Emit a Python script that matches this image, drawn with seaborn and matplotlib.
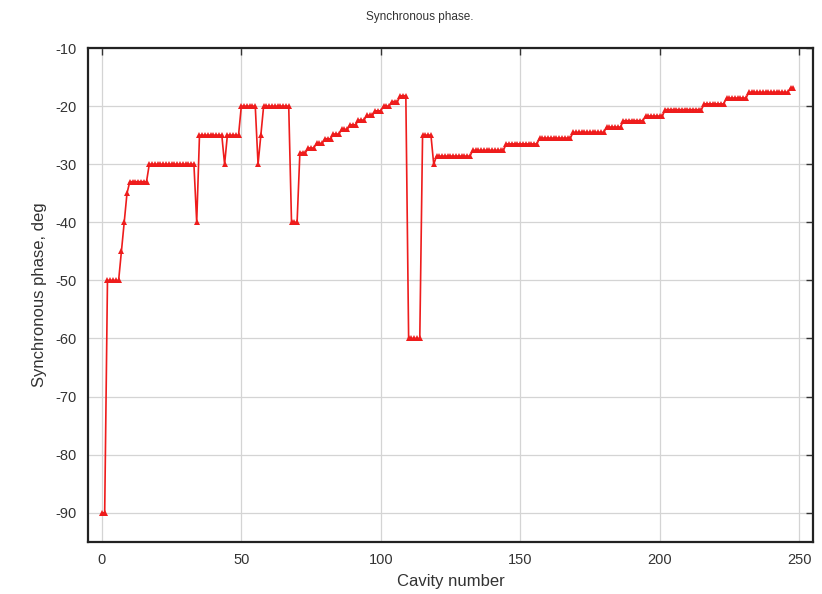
import numpy as np
import pandas as pd
import seaborn as sns
from matplotlib import pyplot as plt

# synchronous phase per cavity, stored as plateaus (level, number of cavities)
phase_levels = [
    -90, -50, -45, -40, -35, -33, -30, -40, -25, -30, -25, -20, -30, -25, -20, -40,
    -28, -27.2, -26.4, -25.6, -24.8, -24.0, -23.2, -22.4, -21.6, -20.8, -20.0, -19.2, -18.2,
    -60, -25, -30,
    -28.6, -27.6, -26.5, -25.5, -24.5, -23.6, -22.5, -21.7, -20.6, -19.6, -18.6, -17.6, -16.8,
]
plateau_lengths = [
    2, 5, 1, 1, 1, 7, 17, 1, 9, 1, 5, 6, 1, 1, 10, 3,
    3, 3, 3, 3, 3, 3, 3, 3, 3, 3, 3, 3, 3,
    5, 4, 1,
    13, 12, 12, 12, 12, 6, 8, 7, 14, 8, 8, 15, 2,
]
x_ticks = [0, 50, 100, 150, 200, 250]
y_ticks = [-90, -80, -70, -60, -50, -40, -30, -20, -10]

phase = np.repeat(phase_levels, plateau_lengths)
df = pd.DataFrame({"cavity": np.arange(len(phase)), "phase": phase})

sns.set_style("white")
plt.rcParams["font.family"] = ["Liberation Sans", "DejaVu Sans"]
plt.rcParams["axes.unicode_minus"] = False

fig = plt.figure(figsize=(8.22, 5.94), dpi=100)
ax = fig.add_axes([0.107, 0.088, 0.882, 0.831])

sns.lineplot(data=df, x="cavity", y="phase", ax=ax, color="#ee1c1c",
             linewidth=1.2, marker="^", markersize=5, markeredgewidth=0,
             estimator=None)

ax.set_xlim(-5, 255)
ax.set_ylim(-95, -10)
ax.set_xticks(x_ticks)
ax.set_yticks(y_ticks)
ax.grid(True, color="#d4d4d4", linewidth=0.9)
ax.tick_params(direction="in", length=5, width=1.0, top=True, right=True,
               labeltop=False, labelright=False, labelsize=10.5, colors="#333333",
               pad=8)
for s in ax.spines.values():
    s.set_color("#222222")
    s.set_linewidth(1.6)

# title is centred on the canvas, not on the axes
fig.text(0.511, 0.972, "Synchronous phase.", fontsize=8.5, color="#333333",
         ha="center", va="center")
ax.set_xlabel("Cavity number", fontsize=12, color="#333333", labelpad=5)
ax.set_ylabel("Synchronous phase, deg", fontsize=12, color="#333333", labelpad=6)

fig.savefig("out.png", dpi=100)
